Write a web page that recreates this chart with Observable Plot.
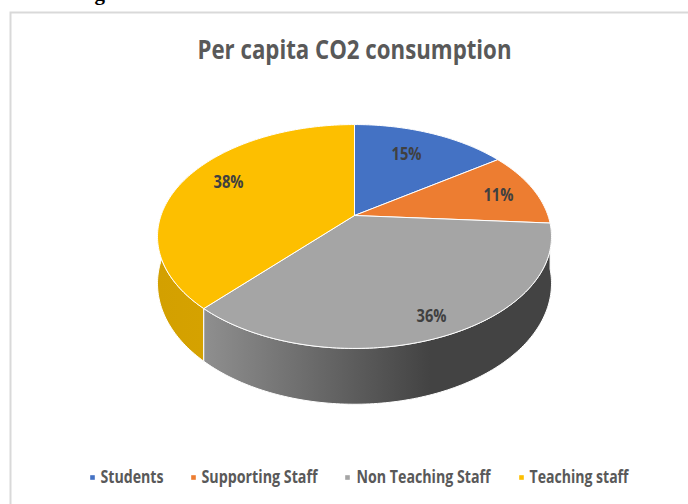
<!DOCTYPE html>
<html>
<head>
<meta charset="utf-8">
<style>html,body{margin:0;padding:0;background:#fff;overflow:hidden}svg{display:block}</style>
<script src="https://cdn.jsdelivr.net/npm/d3@7"></script>
<script src="https://cdn.jsdelivr.net/npm/@observablehq/plot@0.6"></script>
</head>
<body>
<div id="chart"></div>
<script>
const categories = ["Students", "Supporting Staff", "Non Teaching Staff", "Teaching staff"];
const shares = [15.3, 10.8, 35.6, 38.3];
const colors = ["#4472c4", "#ed7d31", "#a5a5a5", "#fdbf00"];
const labelU = [0.269, 0.744, 0.398, -0.651];
const labelV = [-0.565, -0.185, 0.935, -0.306];
const legendText = [100, 201, 356, 529];
const legendSwatch = [92, 193, 347, 521];
const legendWidth = [63, 116, 134, 99];

// Perspective of the tilted disc: world (sin a, -cos a) seen with foreshortening k
const k = 0.1875, wallDepth = 0.42;
const project = (deg, drop = 0) => {
  const a = deg * Math.PI / 180, wx = Math.sin(a), wz = -Math.cos(a), d = 1 - k * wz;
  return {u: wx / d, v: (wz + drop) / d};
};
const cum = d3.cumsum(shares);
const total = d3.sum(shares);
const spans = categories.map((c, i) => ({
  category: c,
  a0: (i ? cum[i - 1] : 0) / total * 360,
  a1: cum[i] / total * 360
}));
const arc = (s, drop) => {
  const pts = [], n = Math.ceil(s.a1 - s.a0);
  for (let j = 0; j <= n; ++j) pts.push(project(s.a0 + (s.a1 - s.a0) * j / n, drop));
  return pts;
};
const tops = spans.flatMap(s => {
  const c = {u: 0, v: 0};
  return [c, ...arc(s, 0), c].map(p => ({...p, category: s.category}));
});
const wall = s => [...arc(s, 0), ...arc(s, wallDepth).reverse(), project(s.a0, 0)];

const defs = () => {
  const ns = "http://www.w3.org/2000/svg";
  const d = document.createElementNS(ns, "defs");
  const grad = (id, stops) => {
    const g = document.createElementNS(ns, "linearGradient");
    g.setAttribute("id", id);
    for (const [o, col] of stops) {
      const s = document.createElementNS(ns, "stop");
      s.setAttribute("offset", o);
      s.setAttribute("stop-color", col);
      g.appendChild(s);
    }
    d.appendChild(g);
  };
  grad("wallGray", [[0, "#8f8f8f"], [0.65, "#434343"], [1, "#434343"]]);
  grad("wallGold", [[0, "#d3a000"], [1, "#dca800"]]);
  return d;
};

const font = "'Open Sans', sans-serif";
const chart = Plot.plot({
  width: 688, height: 504,
  marginTop: 0, marginRight: 0, marginBottom: 0, marginLeft: 0,
  x: {domain: [-1, 1], range: [160.5, 547.5], axis: null},
  y: {domain: [-1, 1], range: [107, 323], axis: null},
  color: {domain: categories, range: colors},
  marks: [
    defs,
    Plot.frame({stroke: "#d9d9d9", strokeWidth: 2, insetLeft: 10, insetTop: 12, insetRight: -4, insetBottom: -4}),
    Plot.text(["g"], {frameAnchor: "top-left", dx: 94, dy: -15, text: d => d, lineAnchor: "top", fontFamily: "'Liberation Serif'", fontWeight: "bold", fontSize: 21, fill: "#000"}),
    Plot.line(wall(spans[3]), {x: "u", y: "v", fill: "url(#wallGold)", stroke: "#fff", strokeWidth: 1}),
    Plot.line(wall(spans[2]), {x: "u", y: "v", fill: "url(#wallGray)", stroke: "#fff", strokeWidth: 1}),
    Plot.line(tops, {x: "u", y: "v", fill: "category", z: "category", stroke: "#fff", strokeWidth: 1}),
    Plot.text(shares, {x: (d, i) => labelU[i], y: (d, i) => labelV[i], text: d => Math.round(d) + "%", fontFamily: font, fontWeight: 700, fontSize: 17, fill: "#404040", className: "fit-value"}),
    Plot.text(["Per capita CO2 consumption"], {frameAnchor: "top", dy: 50, dx: 10, text: d => d, lineAnchor: "middle", fontFamily: font, fontWeight: 700, fontSize: 27, fill: "#595959", className: "fit-title"}),
    ...categories.flatMap((c, i) => [
      Plot.dot([c], {frameAnchor: "top-left", dx: legendSwatch[i], dy: 477, symbol: "square", r: 2.6, fill: d => d, stroke: null}),
      Plot.text([c], {frameAnchor: "top-left", dx: legendText[i], dy: 477, text: d => d, textAnchor: "start", lineAnchor: "middle", fontFamily: font, fontWeight: 700, fontSize: 18, fill: "#595959", className: "fit-legend-" + i})
    ])
  ]
});
document.getElementById("chart").appendChild(chart);

// Squeeze the text to the condensed widths of the original typeface
const fit = (cls, w) => chart.querySelectorAll("." + cls + " text").forEach(t => {
  t.setAttribute("textLength", w);
  t.setAttribute("lengthAdjust", "spacingAndGlyphs");
});
fit("fit-title", 314);
fit("fit-value", 30);
legendWidth.forEach((w, i) => fit("fit-legend-" + i, w));
</script>
</body>
</html>
